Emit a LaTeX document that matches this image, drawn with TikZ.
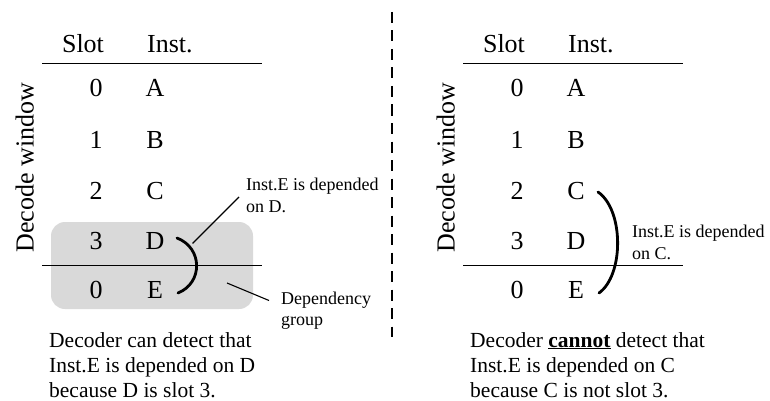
\documentclass[tikz,border=0pt]{standalone}
\usepackage{fontspec}
\setmainfont{Liberation Serif}
\begin{document}
\begin{tikzpicture}[x=1pt,y=-1pt,
  cell/.style={anchor=base,inner sep=0pt,font=\fontsize{26}{28}\selectfont},
  hdr/.style={anchor=base,inner sep=0pt,font=\fontsize{26}{28}\selectfont},
  small/.style={anchor=base west,inner sep=0pt,font=\fontsize{18}{21}\selectfont},
  body/.style={anchor=base west,inner sep=0pt,font=\fontsize{21.5}{25}\selectfont},
  side/.style={inner sep=0pt,rotate=90,font=\fontsize{26}{28}\selectfont},
  rule/.style={line width=1.4pt},
  brk/.style={line width=2.8pt,line cap=round},
  lead/.style={line width=1.1pt},
  grp/.style={fill=black!15,draw=none,rounded corners=14pt}]
\useasboundingbox (0,0) rectangle (770,401);

% ---------------- left panel ----------------
\fill[grp] (51,222) rectangle (253,309);
\node[hdr] (ls) at (83,53) {Slot};
\node[hdr,anchor=base west] (li) at (147,53) {Inst.};
\draw[rule] (42,63.5) -- (262,63.5);
\node[cell] (l0) at (96,97) {0};   \node[cell] (lA) at (155,97) {A};
\node[cell] (l1) at (96,148) {1};  \node[cell] (lB) at (155,148) {B};
\node[cell] (l2) at (96,199) {2};  \node[cell] (lC) at (155,199) {C};
\node[cell] (l3) at (96,249) {3};  \node[cell] (lD) at (155,249) {D};
\draw[rule] (42,265.5) -- (262,265.5);
\node[cell] (l4) at (96,298) {0};  \node[cell] (lE) at (155,298) {E};
\node[side,anchor=base] (lw) at (33.5,167.5) {Decode window};

\coordinate (lb1) at (177,238);
\coordinate (lb2) at (178,293);
\draw[brk] (lb1) .. controls (203,248) and (203,283) .. (lb2);
\coordinate (lbl) at (192.5,243.5);
\node[small] (ldA) at (246,190.5) {Inst.E is depended};
\node[small] (ldB) at (246,212) {on D.};
\coordinate (ldt) at (239,197);
\draw[lead] (lbl) -- (ldt);

\coordinate (lgs) at (227,283);
\coordinate (lgt) at (269,300.5);
\draw[lead] (lgs) -- (lgt);
\node[small] (lgA) at (281,304) {Dependency};
\node[small] (lgB) at (281,325) {group};

\node[body] (lt1) at (49,347) {Decoder can detect that};
\node[body] (lt2) at (49,372) {Inst.E is depended on D};
\node[body] (lt3) at (49,397) {because D is slot 3.};

% ---------------- divider ----------------
\coordinate (dv1) at (392,12);
\coordinate (dv2) at (392,337);
\draw[line width=1.2pt,dash pattern=on 11pt off 7.5pt] (dv1) -- (dv2);

% ---------------- right panel ----------------
\node[hdr] (rs) at (504,53) {Slot};
\node[hdr,anchor=base west] (ri) at (568,53) {Inst.};
\draw[rule] (463,63.5) -- (683,63.5);
\node[cell] (r0) at (517,97) {0};   \node[cell] (rA) at (576,97) {A};
\node[cell] (r1) at (517,148) {1};  \node[cell] (rB) at (576,148) {B};
\node[cell] (r2) at (517,199) {2};  \node[cell] (rC) at (576,199) {C};
\node[cell] (r3) at (517,249) {3};  \node[cell] (rD) at (576,249) {D};
\draw[rule] (463,265.5) -- (683,265.5);
\node[cell] (r4) at (517,298) {0};  \node[cell] (rE) at (576,298) {E};
\node[side,anchor=base] (rw) at (454.5,167.5) {Decode window};

\coordinate (rb1) at (598,192);
\coordinate (rb2) at (599,293);
\draw[brk] (rb1) .. controls (624,210) and (624,275) .. (rb2);
\node[small] (rdA) at (632,237.5) {Inst.E is depended};
\node[small] (rdB) at (632,259.5) {on C.};

\node[body] (rt1) at (470,347) {Decoder \textbf{\underline{cannot}} detect that};
\node[body] (rt2) at (470,372) {Inst.E is depended on C};
\node[body] (rt3) at (470,397) {because C is not slot 3.};
\end{tikzpicture}
\end{document}
